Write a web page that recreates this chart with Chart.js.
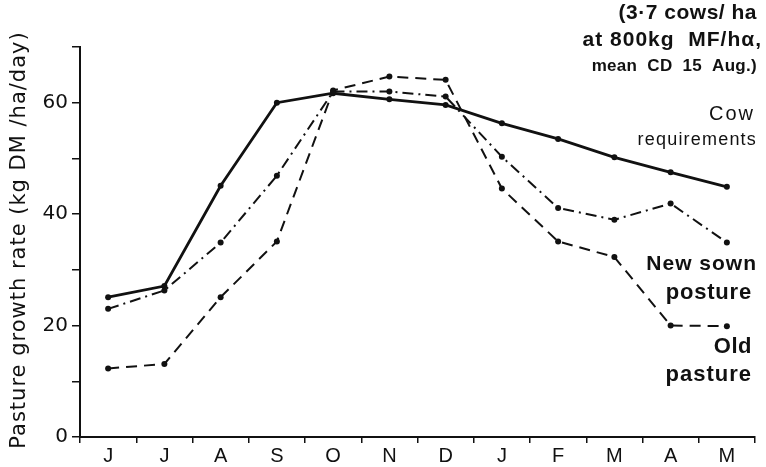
<!doctype html>
<html lang="en">
<head>
<meta charset="utf-8">
<title>Pasture growth</title>
<script src="https://cdn.jsdelivr.net/npm/chart.js@4"></script>
<style>
  html, body { margin: 0; padding: 0; background: #fff; }
  #wrap { width: 766px; height: 467px; }
</style>
</head>
<body>
<div id="wrap"><canvas id="myChart" width="766" height="467"></canvas></div>
<script>
// months, July to May
var months = ['J', 'J', 'A', 'S', 'O', 'N', 'D', 'J', 'F', 'M', 'A', 'M'];
var cowReq = [25.1, 27.1, 45.1, 60.0, 61.7, 60.6, 59.6, 56.3, 53.5, 50.2, 47.5, 44.9];
var newSown = [23.0, 26.3, 34.9, 46.9, 62.0, 62.0, 61.1, 50.3, 41.1, 39.0, 41.9, 34.9];
var oldPasture = [12.3, 13.1, 25.1, 35.1, 62.2, 64.7, 64.1, 44.6, 35.1, 32.3, 20.0, 19.9];
var yTickLabels = { 0: '0', 20: '20', 40: '40', 60: '60' };
var yTitle = 'Pasture growth rate (kg DM /ha/day)';

var ink = '#111';

// text notes on the right hand side
var notes = [
  { text: '(3·7 cows/ ha', x: 757, y: 19, font: 'bold 21px "Liberation Sans"', sp: '0.5px' },
  { text: 'at 800kg  MF/hα,', x: 762, y: 46, font: 'bold 21px "Liberation Sans"', sp: '1px' },
  { text: 'mean  CD  15  Aug.)', x: 757, y: 71, font: 'bold 17px "Liberation Sans"', sp: '0.3px' },
  { text: 'Cow', x: 755, y: 120, font: '20px "Liberation Sans"', sp: '2px' },
  { text: 'requirements', x: 757, y: 145, font: '18px "Liberation Sans"', sp: '1.2px' },
  { text: 'New sown', x: 757, y: 270, font: 'bold 21px "Liberation Sans"', sp: '1px' },
  { text: 'posture', x: 752, y: 299, font: 'bold 22px "Liberation Sans"', sp: '0.8px' },
  { text: 'Old', x: 752, y: 353, font: 'bold 22px "Liberation Sans"', sp: '0.5px' },
  { text: 'pasture', x: 752, y: 381, font: 'bold 22px "Liberation Sans"', sp: '1px' }
];

var notesPlugin = {
  id: 'notes',
  afterDraw: function(chart) {
    var ctx = chart.ctx;
    ctx.save();
    ctx.fillStyle = ink;
    ctx.textAlign = 'right';
    ctx.textBaseline = 'alphabetic';
    notes.forEach(function(n) {
      ctx.font = n.font;
      ctx.letterSpacing = n.sp;
      ctx.fillText(n.text, n.x, n.y);
    });
    // y axis title, drawn here so it can be letter spaced
    ctx.translate(25, (chart.chartArea.top + chart.chartArea.bottom) / 2 - 2);
    ctx.rotate(-Math.PI / 2);
    ctx.textAlign = 'center';
    ctx.font = '21px "DejaVu Sans"';
    ctx.letterSpacing = '1px';
    ctx.fillText(yTitle, 0, 0);
    ctx.restore();
  }
};

function series(label, data, dash, width) {
  return {
    label: label,
    data: data,
    borderColor: ink,
    backgroundColor: ink,
    borderWidth: width,
    borderDash: dash,
    pointRadius: 3,
    pointBorderWidth: 0,
    pointBackgroundColor: ink,
    tension: 0,
    fill: false
  };
}

var ctx = document.getElementById('myChart').getContext('2d');
var chart = new Chart(ctx, {
  type: 'line',
  data: {
    labels: months,
    datasets: [
      series('Cow requirements', cowReq, [], 2.8),
      series('New sown posture', newSown, [11, 5, 2, 5], 2),
      series('Old pasture', oldPasture, [11, 7], 2)
    ]
  },
  options: {
    responsive: false,
    animation: false,
    layout: { padding: { left: 0, right: 11, top: 47, bottom: 0 } },
    plugins: {
      legend: { display: false },
      tooltip: { enabled: false }
    },
    scales: {
      x: {
        offset: true,
        grid: { display: true, drawOnChartArea: false, drawTicks: true, tickLength: 6, color: ink, lineWidth: 1.5, offset: true },
        border: { display: true, color: ink, width: 2 },
        ticks: { color: ink, font: { family: 'Liberation Sans', size: 20 }, padding: 1, maxRotation: 0, autoSkip: false },
        afterFit: function(scale) { scale.height = 30; }
      },
      y: {
        min: 0,
        max: 70,
        grid: { display: true, drawOnChartArea: false, drawTicks: true, tickLength: 8, color: ink, lineWidth: 1.5 },
        border: { display: true, color: ink, width: 2 },
        ticks: {
          stepSize: 10,
          color: ink,
          padding: 4,
          font: { family: 'DejaVu Sans', size: 20 },
          callback: function(v) { return yTickLabels[v] !== undefined ? yTickLabels[v] : ''; }
        },
        afterFit: function(scale) { scale.width = 80; }
      }
    }
  },
  plugins: [notesPlugin]
});
</script>
</body>
</html>
